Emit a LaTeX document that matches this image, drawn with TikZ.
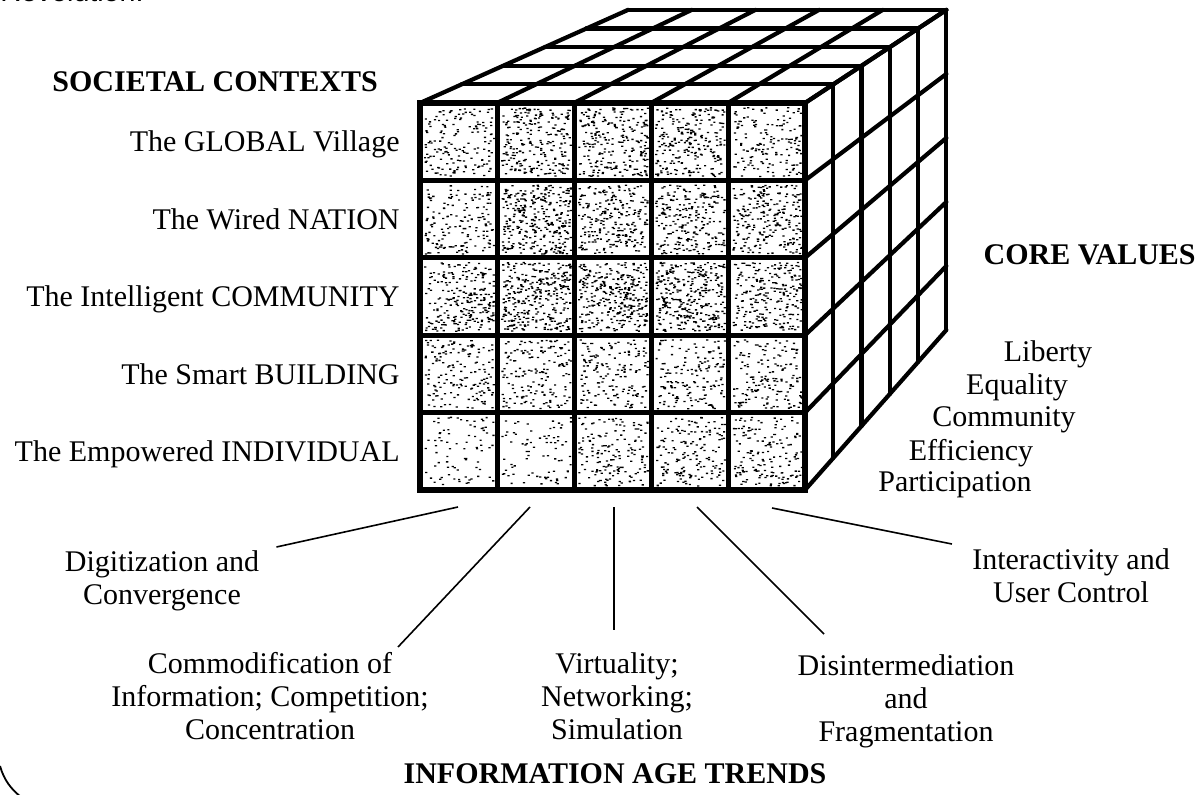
\documentclass[tikz,border=0pt]{standalone}
\usepackage{fontspec}
\setmainfont{Liberation Serif}
\newfontfamily\capfont{Liberation Sans}
\usepackage{tikz}
\usetikzlibrary{calc}

\tikzset{
	cubeline/.style={line width=2.1pt, line join=round, line cap=round},
	gridline/.style={line width=2.5pt, line cap=round},
	spoke/.style={line width=0.8pt},
	lbl/.style={font=\fontsize{15}{16.5}\selectfont, align=center, inner sep=0pt},
	head/.style={font=\fontsize{15}{18}\selectfont\bfseries, inner sep=0pt}
}

\begin{document}
\begin{tikzpicture}[x=0.5pt,y=-0.5pt]
	\useasboundingbox (0,0) rectangle (1202,795);
	
	%cube corners: p<column><row><depth>, receding towards V
	\coordinate (V) at (1622,-435);
	\foreach \i in {0,...,5}
		\foreach \j in {0,...,5}
			\foreach \k in {0,...,5}
				\coordinate (p\i\j\k) at ($(V)!{1-0.0346*\k}!({420+77*\i},{103+77.4*\j})$);
	
	%stippled front cells
	\pgfmathsetseed{41}
	\foreach \i in {0,...,4}
		\foreach \j in {0,...,4} {
			\pgfmathtruncatemacro{\dens}{{2,3,3,3,2,2,4,3,3,3,3,4,4,4,3,2,2,2,2,2,1,1,2,2,2}[\j*5+\i]}
			\pgfmathtruncatemacro{\num}{80*\dens}
			\fill \foreach \n in {1,...,\num} {({424+77*\i+69*rnd},{107+77.4*\j+69*rnd}) rectangle ++(2.2,1.3)};
		}
	
	%top face
	\foreach \i in {0,...,5} \draw[cubeline] (p\i00) -- (p\i05);
	\foreach \k in {1,...,5} \draw[cubeline] (p00\k) -- (p50\k);
	
	%right face
	\foreach \k in {1,...,5} \draw[cubeline] (p50\k) -- (p55\k);
	\foreach \j in {0,...,5} \draw[cubeline] (p5\j0) -- (p5\j5);
	
	%front face
	\foreach \i in {0,...,5} \draw[gridline] (p\i00) -- (p\i50);
	\foreach \j in {0,...,5} \draw[gridline] (p0\j0) -- (p5\j0);
	\draw[line width=3pt] (p000) rectangle (p550);
	
	%headings
	\node[font=\capfont\fontsize{14.3}{16}\selectfont, anchor=base west, inner sep=0pt] (rev) at (0,2) {Revolution.};
	\node[head, anchor=base west] (soc) at (52,92) {SOCIETAL CONTEXTS};
	\node[head, anchor=base east] (core) at (1196,265) {CORE VALUES};
	\node[head, anchor=base] (trends) at (615,783) {INFORMATION AGE TRENDS};
	
	%societal contexts
	\node[lbl, anchor=base east] (glob)  at (400,152) {The GLOBAL Village};
	\node[lbl, anchor=base east] (wired) at (400,230) {The Wired NATION};
	\node[lbl, anchor=base east] (intel) at (400,307) {The Intelligent COMMUNITY};
	\node[lbl, anchor=base east] (smart) at (400,385) {The Smart BUILDING};
	\node[lbl, anchor=base east] (empow) at (400,462) {The Empowered INDIVIDUAL};
	
	%core values
	\node[lbl, anchor=base] (lib)  at (1048,362) {Liberty};
	\node[lbl, anchor=base] (equ)  at (1017,395) {Equality};
	\node[lbl, anchor=base] (comm) at (1004,427) {Community};
	\node[lbl, anchor=base] (eff)  at (971,460)  {Efficiency};
	\node[lbl, anchor=base] (part) at (955,492)  {Participation};
	
	%trends
	\node[lbl, anchor=north] (digit)  at (162,550) {Digitization and\\Convergence};
	\node[lbl, anchor=north] (commod) at (270,652) {Commodification of\\Information; Competition;\\Concentration};
	\node[lbl, anchor=north] (virt)   at (617,652) {Virtuality;\\Networking;\\Simulation};
	\node[lbl, anchor=north] (disint) at (906,654) {Disintermediation\\and\\Fragmentation};
	\node[lbl, anchor=north] (inter)  at (1071,548) {Interactivity and\\User Control};
	
	%spokes under the cube
	\coordinate (s1) at (458,507);
	\coordinate (s2) at (530,507);
	\coordinate (s3) at (614,507);
	\coordinate (s4) at (697,507);
	\coordinate (s5) at (772,508);
	\draw[spoke] (s1) -- ($(digit.north east)+(17,-3)$);
	\draw[spoke] (s2) -- ($(commod.north)+(128,-5)$);
	\draw[spoke] (s3) -- ($(virt.north)+(-3,-22)$);
	\draw[spoke] (s4) -- ($(disint.north)+(-82,-20)$);
	\draw[spoke] (s5) -- ($(inter.north west)+(-20,-4)$);
	
	%corner of the frame
	\draw[line width=0.9pt] (0,766) .. controls (4,780) and (11,789) .. (21,797);
\end{tikzpicture}
\end{document}
